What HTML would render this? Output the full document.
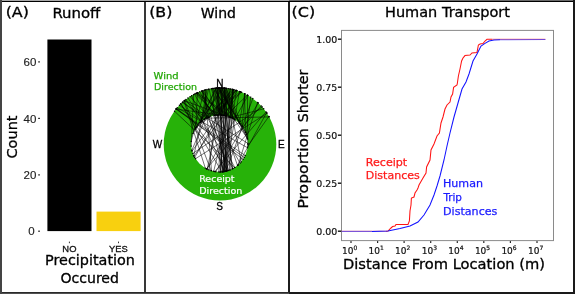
<!DOCTYPE html>
<html lang="en"><head><meta charset="utf-8"><title>Figure</title>
<style>html,body{margin:0;padding:0;background:#fff;}svg{display:block;}</style></head><body>
<svg width="575" height="294" viewBox="0 0 575 294">
<rect x="0" y="0" width="575" height="294" fill="#fff"/>
<g id="panelA">
<rect x="47.4" y="39.5" width="44.1" height="191.6" fill="#000"/>
<rect x="96.5" y="211.6" width="44.1" height="19.5" fill="#f8d00f"/>
<rect x="38.1" y="230.6" width="1.9" height="1.2" fill="#333"/>
<text x="34.6" y="235.4" font-family="'Liberation Sans', sans-serif" font-size="11.5" fill="#222" text-anchor="end" stroke="#222" stroke-width="0.15" >0</text>
<rect x="38.1" y="174.3" width="1.9" height="1.2" fill="#333"/>
<text x="36.3" y="179.1" font-family="'Liberation Sans', sans-serif" font-size="11.5" fill="#222" text-anchor="end" stroke="#222" stroke-width="0.15" >20</text>
<rect x="38.1" y="117.8" width="1.9" height="1.2" fill="#333"/>
<text x="36.3" y="122.6" font-family="'Liberation Sans', sans-serif" font-size="11.5" fill="#222" text-anchor="end" stroke="#222" stroke-width="0.15" >40</text>
<rect x="38.1" y="61.3" width="1.9" height="1.2" fill="#333"/>
<text x="36.3" y="66.1" font-family="'Liberation Sans', sans-serif" font-size="11.5" fill="#222" text-anchor="end" stroke="#222" stroke-width="0.15" >60</text>
<rect x="68.9" y="241.6" width="1" height="1.6" fill="#333"/>
<text x="69.4" y="251.7" font-family="'Liberation Sans', sans-serif" font-size="9.4" fill="#111" text-anchor="middle" stroke="#111" stroke-width="0.3" >NO</text>
<rect x="118.0" y="241.6" width="1" height="1.6" fill="#333"/>
<text x="118.5" y="251.7" font-family="'Liberation Sans', sans-serif" font-size="9.4" fill="#111" text-anchor="middle" stroke="#111" stroke-width="0.3" >YES</text>
<text x="5.7" y="17.4" font-family="'DejaVu Sans', 'Liberation Sans', sans-serif" font-size="14" fill="#000" textLength="23.2" lengthAdjust="spacingAndGlyphs" stroke="#000" stroke-width="0.3" >(A)</text>
<text x="52.4" y="18.4" font-family="'DejaVu Sans', 'Liberation Sans', sans-serif" font-size="14" fill="#000" textLength="48" lengthAdjust="spacingAndGlyphs" stroke="#000" stroke-width="0.3" >Runoff</text>
<text x="0" y="0" font-family="'DejaVu Sans', 'Liberation Sans', sans-serif" font-size="14" fill="#000" textLength="43" lengthAdjust="spacingAndGlyphs" text-anchor="middle" stroke="#000" stroke-width="0.3" transform="translate(17.2,137) rotate(-90)">Count</text>
<text x="45" y="265" font-family="'DejaVu Sans', 'Liberation Sans', sans-serif" font-size="14" fill="#000" textLength="90" lengthAdjust="spacingAndGlyphs" stroke="#000" stroke-width="0.3" >Precipitation</text>
<text x="60.4" y="283" font-family="'DejaVu Sans', 'Liberation Sans', sans-serif" font-size="14" fill="#000" textLength="58.6" lengthAdjust="spacingAndGlyphs" stroke="#000" stroke-width="0.3" >Occured</text>
</g>
<g id="panelB">
<circle cx="220" cy="144.3" r="56.3" fill="#27b209"/>
<circle cx="219.5" cy="143.5" r="28.4" fill="#fff"/>
<path d="M240.6 91.9L194.0 156.0 M224.8 88.2L207.2 169.1 M224.5 88.2L225.7 171.2 M215.4 88.2L222.6 171.7 M228.5 88.6L220.3 171.9 M212.2 88.5L223.9 115.4 M185.9 99.5L201.3 121.7 M222.3 88.0L218.8 171.9 M239.4 91.4L226.0 171.2 M233.0 89.5L223.6 171.6 M203.0 90.6L217.6 115.2 M201.5 91.1L221.6 115.2 M226.8 88.4L241.2 161.9 M211.3 88.7L237.5 165.5 M216.8 88.1L222.7 171.7 M177.2 107.7L247.6 147.8 M197.4 92.7L195.8 127.9 M218.9 88.0L247.2 137.1 M197.8 92.6L214.5 115.5 M223.9 88.1L232.1 168.9 M219.2 88.0L241.9 126.1 M219.6 88.0L225.9 115.8 M229.8 88.9L226.1 171.1 M261.2 106.0L206.5 168.8 M218.6 88.0L224.6 171.4 M232.2 89.3L209.3 117.0 M262.2 107.0L192.9 153.4 M194.5 94.1L234.8 167.4 M197.5 92.7L235.3 119.9 M267.0 113.3L195.5 158.7 M237.1 90.6L224.2 115.5 M217.7 88.0L245.6 132.4 M182.3 102.5L247.9 143.4 M179.4 105.3L202.1 121.1 M174.5 111.2L234.6 167.6 M208.5 89.2L193.8 155.7 M196.4 93.2L216.1 115.3 M184.0 101.0L205.3 168.1 M180.9 103.8L222.0 171.8 M223.9 88.1L223.5 171.6 M176.0 109.1L225.9 115.8 M176.3 108.8L245.2 155.5 M240.3 91.8L200.1 122.8 M188.0 98.0L232.9 168.5 M193.5 94.6L191.2 146.1 M241.6 92.3L195.7 128.0 M226.0 88.3L246.5 134.7 M176.4 108.7L243.1 159.3 M236.2 90.4L192.1 151.1 M236.3 90.4L215.1 115.4 M191.6 95.7L224.5 171.5 M233.7 89.7L201.7 121.4 M244.5 93.6L245.6 132.3 M223.0 88.1L195.0 129.2 M205.0 90.0L211.5 170.7 M266.6 112.7L237.9 165.1 M184.4 100.7L233.8 118.9 M257.6 102.4L238.2 164.9 M207.0 89.5L200.8 122.1 M225.8 88.3L220.1 171.9 M218.3 88.0L191.9 150.2 M196.4 93.2L229.3 116.9 M233.6 89.7L213.7 171.3 M233.9 89.7L222.9 171.7 M263.7 108.8L230.8 117.4 M202.2 90.9L228.7 170.4 M217.1 88.1L219.0 115.1 M220.9 88.0L222.2 115.2 M204.3 90.2L191.2 141.4 M230.7 89.0L221.0 115.1 M252.8 98.5L226.0 171.2 M221.8 88.0L193.0 133.4 M245.0 93.9L242.1 126.3 M221.4 88.0L247.6 139.1 M213.1 88.4L214.0 115.6 M244.7 93.7L239.3 123.2 M195.2 93.7L217.1 115.2 M221.0 88.0L232.7 168.6 M247.4 95.1L225.8 115.8 M214.7 88.3L229.4 116.9 M269.2 116.9L206.6 118.2 M216.1 88.1L196.6 126.7 M248.0 95.4L206.9 168.9 M219.9 88.0L227.9 170.6 M222.2 88.0L221.0 171.9 M268.9 116.4L247.8 146.1 M209.1 89.1L226.5 171.0 M184.6 100.5L208.2 117.4 M224.8 88.2L230.0 169.9 M199.8 91.8L240.1 163.1 M236.5 90.5L224.0 171.5 M266.0 111.9L214.8 171.5 M217.6 88.1L225.4 171.3 M205.8 89.8L205.0 119.1 M221.9 88.0L234.0 119.1 M182.8 102.0L204.5 119.4 M202.0 90.9L223.6 171.6 M223.9 88.1L232.1 118.0 M232.5 89.4L226.4 171.1 M190.1 96.6L208.7 117.2 M247.4 95.1L247.9 144.5 M258.3 103.0L215.8 171.7 M235.8 90.3L200.9 122.0 M213.1 88.4L247.4 138.4 M184.6 100.5L211.0 170.6 M180.7 103.9L228.0 170.6 M216.1 88.1L200.0 122.8 M219.3 88.0L208.9 169.8 M233.3 89.6L194.7 157.4 M216.8 88.1L227.5 170.8 M232.8 89.5L229.9 169.9 M224.5 88.2L240.2 124.1 M226.6 88.4L224.5 171.5 M176.0 109.2L244.3 157.4 M250.7 97.1L246.3 134.2" stroke="#000" stroke-width="0.55" fill="none" stroke-linecap="round"/>
<circle cx="240.6" cy="91.9" r="0.7" fill="#000"/><circle cx="194.0" cy="156.0" r="0.7" fill="#000"/>
<circle cx="224.8" cy="88.2" r="0.7" fill="#000"/><circle cx="207.2" cy="169.1" r="0.7" fill="#000"/>
<circle cx="224.5" cy="88.2" r="0.7" fill="#000"/><circle cx="225.7" cy="171.2" r="0.7" fill="#000"/>
<circle cx="215.4" cy="88.2" r="0.7" fill="#000"/><circle cx="222.6" cy="171.7" r="0.7" fill="#000"/>
<circle cx="228.5" cy="88.6" r="0.7" fill="#000"/><circle cx="220.3" cy="171.9" r="0.7" fill="#000"/>
<circle cx="212.2" cy="88.5" r="0.7" fill="#000"/><circle cx="223.9" cy="115.4" r="0.7" fill="#000"/>
<circle cx="185.9" cy="99.5" r="0.7" fill="#000"/><circle cx="201.3" cy="121.7" r="0.7" fill="#000"/>
<circle cx="222.3" cy="88.0" r="0.7" fill="#000"/><circle cx="218.8" cy="171.9" r="0.7" fill="#000"/>
<circle cx="239.4" cy="91.4" r="0.7" fill="#000"/><circle cx="226.0" cy="171.2" r="0.7" fill="#000"/>
<circle cx="233.0" cy="89.5" r="0.7" fill="#000"/><circle cx="223.6" cy="171.6" r="0.7" fill="#000"/>
<circle cx="203.0" cy="90.6" r="0.7" fill="#000"/><circle cx="217.6" cy="115.2" r="0.7" fill="#000"/>
<circle cx="201.5" cy="91.1" r="0.7" fill="#000"/><circle cx="221.6" cy="115.2" r="0.7" fill="#000"/>
<circle cx="226.8" cy="88.4" r="0.7" fill="#000"/><circle cx="241.2" cy="161.9" r="0.7" fill="#000"/>
<circle cx="211.3" cy="88.7" r="0.7" fill="#000"/><circle cx="237.5" cy="165.5" r="0.7" fill="#000"/>
<circle cx="216.8" cy="88.1" r="0.7" fill="#000"/><circle cx="222.7" cy="171.7" r="0.7" fill="#000"/>
<circle cx="177.2" cy="107.7" r="0.7" fill="#000"/><circle cx="247.6" cy="147.8" r="0.7" fill="#000"/>
<circle cx="197.4" cy="92.7" r="0.7" fill="#000"/><circle cx="195.8" cy="127.9" r="0.7" fill="#000"/>
<circle cx="218.9" cy="88.0" r="0.7" fill="#000"/><circle cx="247.2" cy="137.1" r="0.7" fill="#000"/>
<circle cx="197.8" cy="92.6" r="0.7" fill="#000"/><circle cx="214.5" cy="115.5" r="0.7" fill="#000"/>
<circle cx="223.9" cy="88.1" r="0.7" fill="#000"/><circle cx="232.1" cy="168.9" r="0.7" fill="#000"/>
<circle cx="219.2" cy="88.0" r="0.7" fill="#000"/><circle cx="241.9" cy="126.1" r="0.7" fill="#000"/>
<circle cx="219.6" cy="88.0" r="0.7" fill="#000"/><circle cx="225.9" cy="115.8" r="0.7" fill="#000"/>
<circle cx="229.8" cy="88.9" r="0.7" fill="#000"/><circle cx="226.1" cy="171.1" r="0.7" fill="#000"/>
<circle cx="261.2" cy="106.0" r="0.7" fill="#000"/><circle cx="206.5" cy="168.8" r="0.7" fill="#000"/>
<circle cx="218.6" cy="88.0" r="0.7" fill="#000"/><circle cx="224.6" cy="171.4" r="0.7" fill="#000"/>
<circle cx="232.2" cy="89.3" r="0.7" fill="#000"/><circle cx="209.3" cy="117.0" r="0.7" fill="#000"/>
<circle cx="262.2" cy="107.0" r="0.7" fill="#000"/><circle cx="192.9" cy="153.4" r="0.7" fill="#000"/>
<circle cx="194.5" cy="94.1" r="0.7" fill="#000"/><circle cx="234.8" cy="167.4" r="0.7" fill="#000"/>
<circle cx="197.5" cy="92.7" r="0.7" fill="#000"/><circle cx="235.3" cy="119.9" r="0.7" fill="#000"/>
<circle cx="267.0" cy="113.3" r="0.7" fill="#000"/><circle cx="195.5" cy="158.7" r="0.7" fill="#000"/>
<circle cx="237.1" cy="90.6" r="0.7" fill="#000"/><circle cx="224.2" cy="115.5" r="0.7" fill="#000"/>
<circle cx="217.7" cy="88.0" r="0.7" fill="#000"/><circle cx="245.6" cy="132.4" r="0.7" fill="#000"/>
<circle cx="182.3" cy="102.5" r="0.7" fill="#000"/><circle cx="247.9" cy="143.4" r="0.7" fill="#000"/>
<circle cx="179.4" cy="105.3" r="0.7" fill="#000"/><circle cx="202.1" cy="121.1" r="0.7" fill="#000"/>
<circle cx="174.5" cy="111.2" r="0.7" fill="#000"/><circle cx="234.6" cy="167.6" r="0.7" fill="#000"/>
<circle cx="208.5" cy="89.2" r="0.7" fill="#000"/><circle cx="193.8" cy="155.7" r="0.7" fill="#000"/>
<circle cx="196.4" cy="93.2" r="0.7" fill="#000"/><circle cx="216.1" cy="115.3" r="0.7" fill="#000"/>
<circle cx="184.0" cy="101.0" r="0.7" fill="#000"/><circle cx="205.3" cy="168.1" r="0.7" fill="#000"/>
<circle cx="180.9" cy="103.8" r="0.7" fill="#000"/><circle cx="222.0" cy="171.8" r="0.7" fill="#000"/>
<circle cx="223.9" cy="88.1" r="0.7" fill="#000"/><circle cx="223.5" cy="171.6" r="0.7" fill="#000"/>
<circle cx="176.0" cy="109.1" r="0.7" fill="#000"/><circle cx="225.9" cy="115.8" r="0.7" fill="#000"/>
<circle cx="176.3" cy="108.8" r="0.7" fill="#000"/><circle cx="245.2" cy="155.5" r="0.7" fill="#000"/>
<circle cx="240.3" cy="91.8" r="0.7" fill="#000"/><circle cx="200.1" cy="122.8" r="0.7" fill="#000"/>
<circle cx="188.0" cy="98.0" r="0.7" fill="#000"/><circle cx="232.9" cy="168.5" r="0.7" fill="#000"/>
<circle cx="193.5" cy="94.6" r="0.7" fill="#000"/><circle cx="191.2" cy="146.1" r="0.7" fill="#000"/>
<circle cx="241.6" cy="92.3" r="0.7" fill="#000"/><circle cx="195.7" cy="128.0" r="0.7" fill="#000"/>
<circle cx="226.0" cy="88.3" r="0.7" fill="#000"/><circle cx="246.5" cy="134.7" r="0.7" fill="#000"/>
<circle cx="176.4" cy="108.7" r="0.7" fill="#000"/><circle cx="243.1" cy="159.3" r="0.7" fill="#000"/>
<circle cx="236.2" cy="90.4" r="0.7" fill="#000"/><circle cx="192.1" cy="151.1" r="0.7" fill="#000"/>
<circle cx="236.3" cy="90.4" r="0.7" fill="#000"/><circle cx="215.1" cy="115.4" r="0.7" fill="#000"/>
<circle cx="191.6" cy="95.7" r="0.7" fill="#000"/><circle cx="224.5" cy="171.5" r="0.7" fill="#000"/>
<circle cx="233.7" cy="89.7" r="0.7" fill="#000"/><circle cx="201.7" cy="121.4" r="0.7" fill="#000"/>
<circle cx="244.5" cy="93.6" r="0.7" fill="#000"/><circle cx="245.6" cy="132.3" r="0.7" fill="#000"/>
<circle cx="223.0" cy="88.1" r="0.7" fill="#000"/><circle cx="195.0" cy="129.2" r="0.7" fill="#000"/>
<circle cx="205.0" cy="90.0" r="0.7" fill="#000"/><circle cx="211.5" cy="170.7" r="0.7" fill="#000"/>
<circle cx="266.6" cy="112.7" r="0.7" fill="#000"/><circle cx="237.9" cy="165.1" r="0.7" fill="#000"/>
<circle cx="184.4" cy="100.7" r="0.7" fill="#000"/><circle cx="233.8" cy="118.9" r="0.7" fill="#000"/>
<circle cx="257.6" cy="102.4" r="0.7" fill="#000"/><circle cx="238.2" cy="164.9" r="0.7" fill="#000"/>
<circle cx="207.0" cy="89.5" r="0.7" fill="#000"/><circle cx="200.8" cy="122.1" r="0.7" fill="#000"/>
<circle cx="225.8" cy="88.3" r="0.7" fill="#000"/><circle cx="220.1" cy="171.9" r="0.7" fill="#000"/>
<circle cx="218.3" cy="88.0" r="0.7" fill="#000"/><circle cx="191.9" cy="150.2" r="0.7" fill="#000"/>
<circle cx="196.4" cy="93.2" r="0.7" fill="#000"/><circle cx="229.3" cy="116.9" r="0.7" fill="#000"/>
<circle cx="233.6" cy="89.7" r="0.7" fill="#000"/><circle cx="213.7" cy="171.3" r="0.7" fill="#000"/>
<circle cx="233.9" cy="89.7" r="0.7" fill="#000"/><circle cx="222.9" cy="171.7" r="0.7" fill="#000"/>
<circle cx="263.7" cy="108.8" r="0.7" fill="#000"/><circle cx="230.8" cy="117.4" r="0.7" fill="#000"/>
<circle cx="202.2" cy="90.9" r="0.7" fill="#000"/><circle cx="228.7" cy="170.4" r="0.7" fill="#000"/>
<circle cx="217.1" cy="88.1" r="0.7" fill="#000"/><circle cx="219.0" cy="115.1" r="0.7" fill="#000"/>
<circle cx="220.9" cy="88.0" r="0.7" fill="#000"/><circle cx="222.2" cy="115.2" r="0.7" fill="#000"/>
<circle cx="204.3" cy="90.2" r="0.7" fill="#000"/><circle cx="191.2" cy="141.4" r="0.7" fill="#000"/>
<circle cx="230.7" cy="89.0" r="0.7" fill="#000"/><circle cx="221.0" cy="115.1" r="0.7" fill="#000"/>
<circle cx="252.8" cy="98.5" r="0.7" fill="#000"/><circle cx="226.0" cy="171.2" r="0.7" fill="#000"/>
<circle cx="221.8" cy="88.0" r="0.7" fill="#000"/><circle cx="193.0" cy="133.4" r="0.7" fill="#000"/>
<circle cx="245.0" cy="93.9" r="0.7" fill="#000"/><circle cx="242.1" cy="126.3" r="0.7" fill="#000"/>
<circle cx="221.4" cy="88.0" r="0.7" fill="#000"/><circle cx="247.6" cy="139.1" r="0.7" fill="#000"/>
<circle cx="213.1" cy="88.4" r="0.7" fill="#000"/><circle cx="214.0" cy="115.6" r="0.7" fill="#000"/>
<circle cx="244.7" cy="93.7" r="0.7" fill="#000"/><circle cx="239.3" cy="123.2" r="0.7" fill="#000"/>
<circle cx="195.2" cy="93.7" r="0.7" fill="#000"/><circle cx="217.1" cy="115.2" r="0.7" fill="#000"/>
<circle cx="221.0" cy="88.0" r="0.7" fill="#000"/><circle cx="232.7" cy="168.6" r="0.7" fill="#000"/>
<circle cx="247.4" cy="95.1" r="0.7" fill="#000"/><circle cx="225.8" cy="115.8" r="0.7" fill="#000"/>
<circle cx="214.7" cy="88.3" r="0.7" fill="#000"/><circle cx="229.4" cy="116.9" r="0.7" fill="#000"/>
<circle cx="269.2" cy="116.9" r="0.7" fill="#000"/><circle cx="206.6" cy="118.2" r="0.7" fill="#000"/>
<circle cx="216.1" cy="88.1" r="0.7" fill="#000"/><circle cx="196.6" cy="126.7" r="0.7" fill="#000"/>
<circle cx="248.0" cy="95.4" r="0.7" fill="#000"/><circle cx="206.9" cy="168.9" r="0.7" fill="#000"/>
<circle cx="219.9" cy="88.0" r="0.7" fill="#000"/><circle cx="227.9" cy="170.6" r="0.7" fill="#000"/>
<circle cx="222.2" cy="88.0" r="0.7" fill="#000"/><circle cx="221.0" cy="171.9" r="0.7" fill="#000"/>
<circle cx="268.9" cy="116.4" r="0.7" fill="#000"/><circle cx="247.8" cy="146.1" r="0.7" fill="#000"/>
<circle cx="209.1" cy="89.1" r="0.7" fill="#000"/><circle cx="226.5" cy="171.0" r="0.7" fill="#000"/>
<circle cx="184.6" cy="100.5" r="0.7" fill="#000"/><circle cx="208.2" cy="117.4" r="0.7" fill="#000"/>
<circle cx="224.8" cy="88.2" r="0.7" fill="#000"/><circle cx="230.0" cy="169.9" r="0.7" fill="#000"/>
<circle cx="199.8" cy="91.8" r="0.7" fill="#000"/><circle cx="240.1" cy="163.1" r="0.7" fill="#000"/>
<circle cx="236.5" cy="90.5" r="0.7" fill="#000"/><circle cx="224.0" cy="171.5" r="0.7" fill="#000"/>
<circle cx="266.0" cy="111.9" r="0.7" fill="#000"/><circle cx="214.8" cy="171.5" r="0.7" fill="#000"/>
<circle cx="217.6" cy="88.1" r="0.7" fill="#000"/><circle cx="225.4" cy="171.3" r="0.7" fill="#000"/>
<circle cx="205.8" cy="89.8" r="0.7" fill="#000"/><circle cx="205.0" cy="119.1" r="0.7" fill="#000"/>
<circle cx="221.9" cy="88.0" r="0.7" fill="#000"/><circle cx="234.0" cy="119.1" r="0.7" fill="#000"/>
<circle cx="182.8" cy="102.0" r="0.7" fill="#000"/><circle cx="204.5" cy="119.4" r="0.7" fill="#000"/>
<circle cx="202.0" cy="90.9" r="0.7" fill="#000"/><circle cx="223.6" cy="171.6" r="0.7" fill="#000"/>
<circle cx="223.9" cy="88.1" r="0.7" fill="#000"/><circle cx="232.1" cy="118.0" r="0.7" fill="#000"/>
<circle cx="232.5" cy="89.4" r="0.7" fill="#000"/><circle cx="226.4" cy="171.1" r="0.7" fill="#000"/>
<circle cx="190.1" cy="96.6" r="0.7" fill="#000"/><circle cx="208.7" cy="117.2" r="0.7" fill="#000"/>
<circle cx="247.4" cy="95.1" r="0.7" fill="#000"/><circle cx="247.9" cy="144.5" r="0.7" fill="#000"/>
<circle cx="258.3" cy="103.0" r="0.7" fill="#000"/><circle cx="215.8" cy="171.7" r="0.7" fill="#000"/>
<circle cx="235.8" cy="90.3" r="0.7" fill="#000"/><circle cx="200.9" cy="122.0" r="0.7" fill="#000"/>
<circle cx="213.1" cy="88.4" r="0.7" fill="#000"/><circle cx="247.4" cy="138.4" r="0.7" fill="#000"/>
<circle cx="184.6" cy="100.5" r="0.7" fill="#000"/><circle cx="211.0" cy="170.6" r="0.7" fill="#000"/>
<circle cx="180.7" cy="103.9" r="0.7" fill="#000"/><circle cx="228.0" cy="170.6" r="0.7" fill="#000"/>
<circle cx="216.1" cy="88.1" r="0.7" fill="#000"/><circle cx="200.0" cy="122.8" r="0.7" fill="#000"/>
<circle cx="219.3" cy="88.0" r="0.7" fill="#000"/><circle cx="208.9" cy="169.8" r="0.7" fill="#000"/>
<circle cx="233.3" cy="89.6" r="0.7" fill="#000"/><circle cx="194.7" cy="157.4" r="0.7" fill="#000"/>
<circle cx="216.8" cy="88.1" r="0.7" fill="#000"/><circle cx="227.5" cy="170.8" r="0.7" fill="#000"/>
<circle cx="232.8" cy="89.5" r="0.7" fill="#000"/><circle cx="229.9" cy="169.9" r="0.7" fill="#000"/>
<circle cx="224.5" cy="88.2" r="0.7" fill="#000"/><circle cx="240.2" cy="124.1" r="0.7" fill="#000"/>
<circle cx="226.6" cy="88.4" r="0.7" fill="#000"/><circle cx="224.5" cy="171.5" r="0.7" fill="#000"/>
<circle cx="176.0" cy="109.2" r="0.7" fill="#000"/><circle cx="244.3" cy="157.4" r="0.7" fill="#000"/>
<circle cx="250.7" cy="97.1" r="0.7" fill="#000"/><circle cx="246.3" cy="134.2" r="0.7" fill="#000"/>
<text x="149.2" y="17.4" font-family="'DejaVu Sans', 'Liberation Sans', sans-serif" font-size="14" fill="#000" textLength="23.2" lengthAdjust="spacingAndGlyphs" stroke="#000" stroke-width="0.3" >(B)</text>
<text x="200.8" y="18.4" font-family="'DejaVu Sans', 'Liberation Sans', sans-serif" font-size="14" fill="#000" textLength="35.2" lengthAdjust="spacingAndGlyphs" stroke="#000" stroke-width="0.3" >Wind</text>
<text x="153.6" y="78.6" font-family="'DejaVu Sans', 'Liberation Sans', sans-serif" font-size="9.3" fill="#24a808" textLength="25" lengthAdjust="spacingAndGlyphs" stroke="#24a808" stroke-width="0.25" >Wind</text>
<text x="154" y="90.4" font-family="'DejaVu Sans', 'Liberation Sans', sans-serif" font-size="9.3" fill="#24a808" textLength="43" lengthAdjust="spacingAndGlyphs" stroke="#24a808" stroke-width="0.25" >Direction</text>
<text x="199.2" y="182" font-family="'DejaVu Sans', 'Liberation Sans', sans-serif" font-size="9.3" fill="#fff" textLength="35.4" lengthAdjust="spacingAndGlyphs" stroke="#fff" stroke-width="0.2" >Receipt</text>
<text x="199.2" y="193.6" font-family="'DejaVu Sans', 'Liberation Sans', sans-serif" font-size="9.3" fill="#fff" textLength="43.2" lengthAdjust="spacingAndGlyphs" stroke="#fff" stroke-width="0.2" >Direction</text>
<text x="219.8" y="86.5" font-family="'Liberation Sans', sans-serif" font-size="10" fill="#000" text-anchor="middle" stroke="#000" stroke-width="0.3" >N</text>
<text x="219.5" y="210.4" font-family="'Liberation Sans', sans-serif" font-size="10" fill="#000" text-anchor="middle" stroke="#000" stroke-width="0.3" >S</text>
<text x="157.5" y="148.2" font-family="'Liberation Sans', sans-serif" font-size="10" fill="#000" text-anchor="middle" stroke="#000" stroke-width="0.3" >W</text>
<text x="281.4" y="148" font-family="'Liberation Sans', sans-serif" font-size="10" fill="#000" text-anchor="middle" stroke="#000" stroke-width="0.3" >E</text>
</g>
<g id="panelC">
<rect x="341.5" y="30.4" width="212" height="210.2" fill="#fff" stroke="#8a8a8a" stroke-width="1"/>
<rect x="337.9" y="230.5" width="3.3" height="1.4" fill="#111"/>
<text x="337.2" y="234.6" font-family="'DejaVu Sans', 'Liberation Sans', sans-serif" font-size="9" fill="#111" textLength="21" lengthAdjust="spacingAndGlyphs" text-anchor="end" stroke="#111" stroke-width="0.2" >0.00</text>
<rect x="337.9" y="182.5" width="3.3" height="1.4" fill="#111"/>
<text x="337.2" y="186.6" font-family="'DejaVu Sans', 'Liberation Sans', sans-serif" font-size="9" fill="#111" textLength="21" lengthAdjust="spacingAndGlyphs" text-anchor="end" stroke="#111" stroke-width="0.2" >0.25</text>
<rect x="337.9" y="134.5" width="3.3" height="1.4" fill="#111"/>
<text x="337.2" y="138.6" font-family="'DejaVu Sans', 'Liberation Sans', sans-serif" font-size="9" fill="#111" textLength="21" lengthAdjust="spacingAndGlyphs" text-anchor="end" stroke="#111" stroke-width="0.2" >0.50</text>
<rect x="337.9" y="86.5" width="3.3" height="1.4" fill="#111"/>
<text x="337.2" y="90.6" font-family="'DejaVu Sans', 'Liberation Sans', sans-serif" font-size="9" fill="#111" textLength="21" lengthAdjust="spacingAndGlyphs" text-anchor="end" stroke="#111" stroke-width="0.2" >0.75</text>
<rect x="337.9" y="38.5" width="3.3" height="1.4" fill="#111"/>
<text x="337.2" y="42.6" font-family="'DejaVu Sans', 'Liberation Sans', sans-serif" font-size="9" fill="#111" textLength="21" lengthAdjust="spacingAndGlyphs" text-anchor="end" stroke="#111" stroke-width="0.2" >1.00</text>
<rect x="350.4" y="241.1" width="1.2" height="1.9" fill="#222"/>
<text x="342.0" y="253.7" font-family="'DejaVu Sans', 'Liberation Sans', sans-serif" font-size="9" fill="#111" stroke="#111" stroke-width="0.2">10<tspan dy="-3.6" font-size="6">0</tspan></text>
<rect x="377.0" y="241.1" width="1.2" height="1.9" fill="#222"/>
<text x="368.6" y="253.7" font-family="'DejaVu Sans', 'Liberation Sans', sans-serif" font-size="9" fill="#111" stroke="#111" stroke-width="0.2">10<tspan dy="-3.6" font-size="6">1</tspan></text>
<rect x="403.5" y="241.1" width="1.2" height="1.9" fill="#222"/>
<text x="395.1" y="253.7" font-family="'DejaVu Sans', 'Liberation Sans', sans-serif" font-size="9" fill="#111" stroke="#111" stroke-width="0.2">10<tspan dy="-3.6" font-size="6">2</tspan></text>
<rect x="430.1" y="241.1" width="1.2" height="1.9" fill="#222"/>
<text x="421.7" y="253.7" font-family="'DejaVu Sans', 'Liberation Sans', sans-serif" font-size="9" fill="#111" stroke="#111" stroke-width="0.2">10<tspan dy="-3.6" font-size="6">3</tspan></text>
<rect x="456.7" y="241.1" width="1.2" height="1.9" fill="#222"/>
<text x="448.3" y="253.7" font-family="'DejaVu Sans', 'Liberation Sans', sans-serif" font-size="9" fill="#111" stroke="#111" stroke-width="0.2">10<tspan dy="-3.6" font-size="6">4</tspan></text>
<rect x="483.2" y="241.1" width="1.2" height="1.9" fill="#222"/>
<text x="474.9" y="253.7" font-family="'DejaVu Sans', 'Liberation Sans', sans-serif" font-size="9" fill="#111" stroke="#111" stroke-width="0.2">10<tspan dy="-3.6" font-size="6">5</tspan></text>
<rect x="509.8" y="241.1" width="1.2" height="1.9" fill="#222"/>
<text x="501.4" y="253.7" font-family="'DejaVu Sans', 'Liberation Sans', sans-serif" font-size="9" fill="#111" stroke="#111" stroke-width="0.2">10<tspan dy="-3.6" font-size="6">6</tspan></text>
<rect x="536.4" y="241.1" width="1.2" height="1.9" fill="#222"/>
<text x="528.0" y="253.7" font-family="'DejaVu Sans', 'Liberation Sans', sans-serif" font-size="9" fill="#111" stroke="#111" stroke-width="0.2">10<tspan dy="-3.6" font-size="6">7</tspan></text>
<polyline points="341.6,231.3 386.0,231.3" fill="none" stroke="#ff1212" stroke-width="1.05" stroke-opacity="0.5" stroke-linejoin="miter"/>
<polyline points="492.0,39.3 545.4,39.3" fill="none" stroke="#ff1212" stroke-width="1.05" stroke-opacity="0.6" stroke-linejoin="miter"/>
<polyline points="386.0,231.3 388.0,231.0 391.0,228.0 392.6,226.6 395.0,226.0 396.0,224.4 408.0,224.4 409.4,221.0 410.0,211.0 411.0,205.0 411.4,198.0 414.0,197.0 415.0,193.0 417.0,190.0 418.0,188.0 419.0,185.0 423.0,178.0 426.0,173.0 426.6,167.0 430.0,160.0 431.0,150.0 434.0,144.0 437.0,136.0 439.4,133.0 441.0,123.0 443.0,117.0 445.0,109.0 447.0,105.0 450.0,102.0 451.0,97.0 452.6,94.0 453.6,87.4 457.0,85.0 457.4,83.0 458.4,76.0 460.0,69.0 461.6,61.0 463.0,58.0 465.0,55.6 470.0,55.0 472.0,53.0 477.0,52.4 478.4,45.0 480.0,44.0 483.0,43.6 485.0,41.0 487.0,39.3 492.0,39.3" fill="none" stroke="#ff1212" stroke-width="1.05" stroke-opacity="1" stroke-linejoin="miter"/>
<polyline points="341.6,231.4 372.0,231.4" fill="none" stroke="#1212ff" stroke-width="1.05" stroke-opacity="0.6" stroke-linejoin="miter"/>
<polyline points="500.0,39.7 545.4,39.6" fill="none" stroke="#1212ff" stroke-width="1.05" stroke-opacity="0.6" stroke-linejoin="miter"/>
<polyline points="372.0,231.4 388.0,231.0 400.0,228.6 410.0,226.0 418.0,222.0 424.0,215.0 430.0,205.0 434.0,195.0 437.0,186.0 440.0,176.0 444.0,160.0 447.0,146.0 450.0,133.0 454.0,117.0 458.0,103.0 462.0,89.0 466.0,82.0 469.0,74.0 473.0,61.0 477.0,54.0 481.0,46.0 485.0,43.4 489.0,41.0 494.0,40.0 500.0,39.7" fill="none" stroke="#1212ff" stroke-width="1.05" stroke-opacity="1" stroke-linejoin="miter"/>
<text x="291.6" y="17.2" font-family="'DejaVu Sans', 'Liberation Sans', sans-serif" font-size="14" fill="#000" textLength="23.6" lengthAdjust="spacingAndGlyphs" stroke="#000" stroke-width="0.3" >(C)</text>
<text x="385" y="17" font-family="'DejaVu Sans', 'Liberation Sans', sans-serif" font-size="14" fill="#000" textLength="125" lengthAdjust="spacingAndGlyphs" stroke="#000" stroke-width="0.3" >Human Transport</text>
<text x="0" y="0" font-family="'DejaVu Sans', 'Liberation Sans', sans-serif" font-size="14" fill="#000" textLength="80.6" lengthAdjust="spacingAndGlyphs" stroke="#000" stroke-width="0.3" transform="translate(308,208.6) rotate(-90)">Proportion</text>
<text x="0" y="0" font-family="'DejaVu Sans', 'Liberation Sans', sans-serif" font-size="14" fill="#000" textLength="52.6" lengthAdjust="spacingAndGlyphs" stroke="#000" stroke-width="0.3" transform="translate(308,122.2) rotate(-90)">Shorter</text>
<text x="343" y="269" font-family="'DejaVu Sans', 'Liberation Sans', sans-serif" font-size="14" fill="#000" textLength="202" lengthAdjust="spacingAndGlyphs" stroke="#000" stroke-width="0.3" >Distance From Location (m)</text>
<text x="365.8" y="165.8" font-family="'DejaVu Sans', 'Liberation Sans', sans-serif" font-size="10.4" fill="#ff1a1a" textLength="41.4" lengthAdjust="spacingAndGlyphs" stroke="#ff1a1a" stroke-width="0.25" >Receipt</text>
<text x="365.8" y="179.4" font-family="'DejaVu Sans', 'Liberation Sans', sans-serif" font-size="10.4" fill="#ff1a1a" textLength="54" lengthAdjust="spacingAndGlyphs" stroke="#ff1a1a" stroke-width="0.25" >Distances</text>
<text x="443" y="186.5" font-family="'DejaVu Sans', 'Liberation Sans', sans-serif" font-size="10.4" fill="#1a1aff" textLength="40" lengthAdjust="spacingAndGlyphs" stroke="#1a1aff" stroke-width="0.25" >Human</text>
<text x="443.4" y="200.6" font-family="'DejaVu Sans', 'Liberation Sans', sans-serif" font-size="10.4" fill="#1a1aff" stroke="#1a1aff" stroke-width="0.25" >Trip</text>
<text x="443" y="214.6" font-family="'DejaVu Sans', 'Liberation Sans', sans-serif" font-size="10.4" fill="#1a1aff" textLength="54.4" lengthAdjust="spacingAndGlyphs" stroke="#1a1aff" stroke-width="0.25" >Distances</text>
</g>
<g id="frame" shape-rendering="crispEdges">
<rect x="144" y="0" width="2" height="294" fill="#383838"/>
<rect x="288" y="0" width="2" height="294" fill="#1c1c1c"/>
<rect x="0" y="0" width="289" height="1" fill="#a8a8a8"/>
<rect x="289" y="0" width="286" height="1" fill="#6a6a6a"/>
<rect x="0" y="1" width="575" height="1" fill="#000"/>
<rect x="0" y="292" width="289" height="1" fill="#2a2a2a"/>
<rect x="0" y="293" width="289" height="1" fill="#505050"/>
<rect x="289" y="292" width="286" height="2" fill="#1a1a1a"/>
<rect x="0" y="0" width="2" height="294" fill="#444"/>
<rect x="573" y="0" width="2" height="294" fill="#1a1a1a"/>
</g>
</svg></body></html>
